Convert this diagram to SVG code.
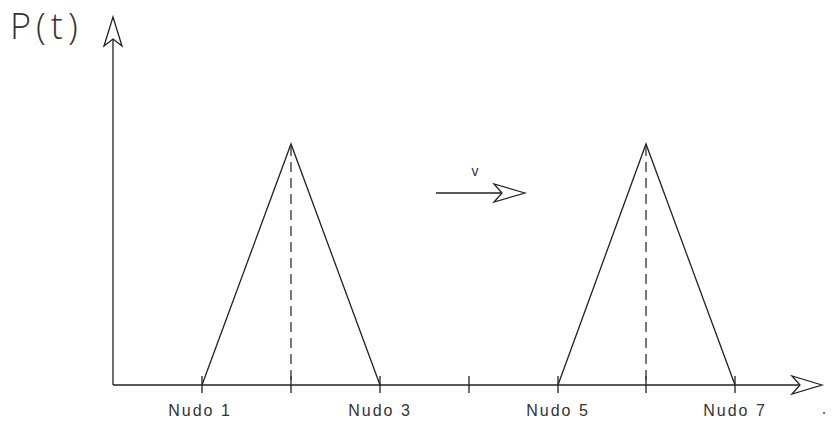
<svg xmlns="http://www.w3.org/2000/svg" width="839" height="430" viewBox="0 0 839 430">
<style>
.ln{stroke:#222;stroke-width:1.3;fill:none}
.dash{stroke:#333;stroke-width:1.3;fill:none;stroke-dasharray:10,6}
.ah{stroke:#222;stroke-width:1.3;fill:#fff;stroke-linejoin:miter}
.lbl{font-family:"Liberation Sans",Arial,sans-serif;font-size:16px;fill:#333;letter-spacing:2px;text-anchor:middle}
.title{font-family:"Open Sans","Liberation Sans",sans-serif;font-weight:300;font-size:36px;fill:#333;letter-spacing:5px}
</style>
<rect width="839" height="430" fill="#fff"/>
<g id="axes">
<line class="ln" x1="113" y1="40" x2="113" y2="385"/>
<line class="ln" x1="113" y1="385" x2="800" y2="385"/>
<polygon class="ah" points="113,17 122,46 113,39 104,46"/>
<polygon class="ah" points="822,385 792,376 800,385 792,394"/>
</g>
<g id="ticks">
<line class="ln" x1="202" y1="376" x2="202" y2="393"/>
<line class="ln" x1="291" y1="376" x2="291" y2="393"/>
<line class="ln" x1="380" y1="376" x2="380" y2="393"/>
<line class="ln" x1="469" y1="376" x2="469" y2="393"/>
<line class="ln" x1="558" y1="376" x2="558" y2="393"/>
<line class="ln" x1="646" y1="376" x2="646" y2="393"/>
<line class="ln" x1="735" y1="376" x2="735" y2="393"/>
</g>
<g id="pulse1">
<polyline class="ln" points="202,385 291,144 380,385"/>
<line class="dash" x1="291" y1="146" x2="291" y2="385"/>
</g>
<g id="pulse2">
<polyline class="ln" points="558,385 646,144 735,385"/>
<line class="dash" x1="646" y1="146" x2="646" y2="385"/>
</g>
<g id="velocity">
<line class="ln" x1="436" y1="193" x2="505" y2="193"/>
<polygon class="ah" points="525,193 494,184 502,193 494,202"/>
<text class="lbl" x="476" y="176" style="font-size:14px">v</text>
</g>
<g id="labels">
<text class="title" x="10" y="39">P(t)</text>
<text class="lbl" x="200" y="416">Nudo 1</text>
<text class="lbl" x="380" y="416">Nudo 3</text>
<text class="lbl" x="558" y="416">Nudo 5</text>
<text class="lbl" x="735" y="416">Nudo 7</text>
<text class="lbl" x="825" y="414">.</text>
</g>
</svg>
